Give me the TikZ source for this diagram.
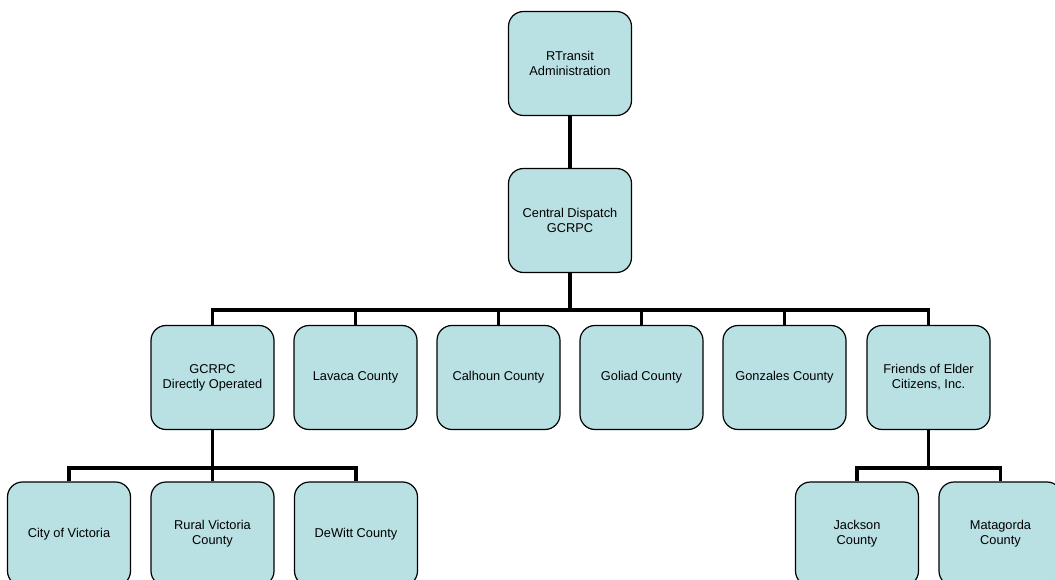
\documentclass[tikz,border=0pt]{standalone}
\usepackage{fontspec}
\setmainfont{Liberation Sans}
\definecolor{boxfill}{RGB}{185,224,227}
\begin{document}
\begin{tikzpicture}[x=1pt,y=-1pt,
  orgbox/.style={draw=black, line width=1.2pt, fill=boxfill, rounded corners=15pt,
    minimum width=123pt, minimum height=104pt, align=center, inner sep=2pt,
    font=\fontsize{12.8pt}{15pt}\selectfont},
  conn/.style={line width=3.6pt, line join=miter}]
\clip (0,0) rectangle (1055,580);
\fill[white] (0,0) rectangle (1055,580);
\coordinate (bus1) at (0,310);
\coordinate (bus2) at (0,468);
% nodes
\node[orgbox] (rt) at (570,63.5) {RTransit\\Administration};
\node[orgbox] (cd) at (570,220.5) {Central Dispatch\\GCRPC};
\node[orgbox] (gc) at (212.5,377.5) {GCRPC\\Directly Operated};
\node[orgbox] (lav) at (355.5,377.5) {Lavaca County};
\node[orgbox] (cal) at (498.5,377.5) {Calhoun County};
\node[orgbox] (gol) at (641.5,377.5) {Goliad County};
\node[orgbox] (gon) at (784.5,377.5) {Gonzales County};
\node[orgbox] (fec) at (928.5,377.5) {Friends of Elder\\Citizens, Inc.};
\node[orgbox] (cov) at (69,534) {City of Victoria};
\node[orgbox] (rvc) at (212.5,534) {Rural Victoria\\County};
\node[orgbox] (dew) at (356,534) {DeWitt County};
\node[orgbox] (jac) at (857,534) {Jackson\\County};
\node[orgbox] (mat) at (1000.5,534) {Matagorda\\County};
% connectors
\draw[conn] (rt.south) -- (cd.north);
\foreach \c in {gc,lav,cal,gol,gon,fec}
  \draw[conn] (cd.south) |- (\c.north |- bus1) -- (\c.north);
\foreach \c in {cov,rvc,dew}
  \draw[conn] (gc.south) |- (\c.north |- bus2) -- (\c.north);
\foreach \c in {jac,mat}
  \draw[conn] (fec.south) |- (\c.north |- bus2) -- (\c.north);
\end{tikzpicture}
\end{document}
